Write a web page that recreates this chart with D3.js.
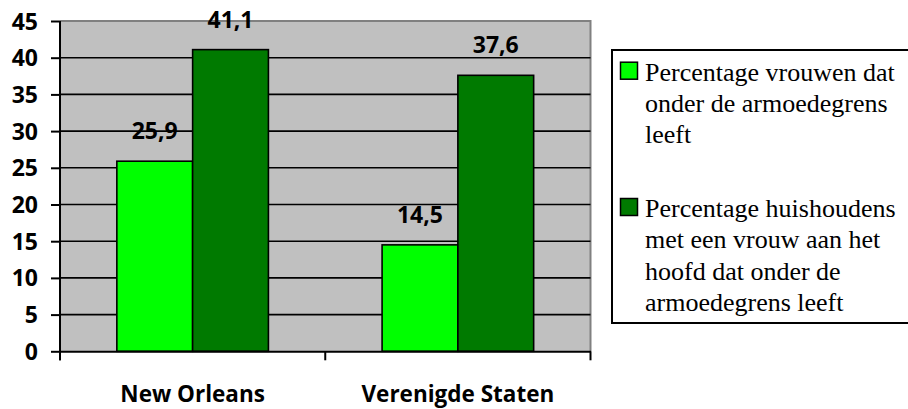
<!DOCTYPE html>
<html><head><meta charset="utf-8">
<script src="https://cdn.jsdelivr.net/npm/d3@7"></script>
<style>body{margin:0;background:#fff;} svg{display:block;} .lgt{font-family:"Liberation Serif","Times New Roman","DejaVu Serif","Noto Serif",serif;}</style>
</head><body>
<svg id="c" width="908" height="409"></svg>
<script>
const categories = ["New Orleans", "Verenigde Staten"];
const seriesNames = ["Percentage vrouwen dat onder de armoedegrens leeft",
                     "Percentage huishoudens met een vrouw aan het hoofd dat onder de armoedegrens leeft"];
const vrouwen = [25.9, 14.5];
const huishoudens = [41.1, 37.6];
const valueLabels = [["25,9", "14,5"], ["41,1", "37,6"]];
const yTicks = [0, 5, 10, 15, 20, 25, 30, 35, 40, 45];
const legendLines = [["Percentage vrouwen dat", "onder de armoedegrens", "leeft"],
                     ["Percentage huishoudens", "met een vrouw aan het", "hoofd dat onder de", "armoedegrens leeft"]];
const colors = ["#00FF00", "#007A00"];

const svg = d3.select("#c");
const L = 60, R = 590.5, T = 21, B = 351.3;
const sansFont = "'Open Sans', 'DejaVu Sans', sans-serif";

const x0 = d3.scaleBand().domain(categories).range([L, R]).padding(0);
const bw = x0.bandwidth() / 3.5;
const x1 = d3.scaleBand().domain([0, 1]).range([0.75 * bw, 2.75 * bw]).padding(0);
const y = d3.scaleLinear().domain([0, 45]).range([B, T]);

svg.append("rect").attr("x", L).attr("y", T).attr("width", R - L).attr("height", B - T).attr("fill", "#C0C0C0");
svg.append("path").attr("d", `M${L},${T}H${R}V${B}`).attr("fill", "none").attr("stroke", "#808080").attr("stroke-width", 2);
svg.append("g").selectAll("line").data(yTicks.filter(t => t > 0 && t < 45)).join("line")
  .attr("x1", L).attr("x2", R).attr("y1", d => y(d)).attr("y2", d => y(d))
  .attr("stroke", "#000").attr("stroke-width", 1.6);

const series = [vrouwen, huishoudens];
series.forEach((vals, si) => {
  svg.append("g").selectAll("rect").data(vals).join("rect")
    .attr("x", (d, i) => x0(categories[i]) + x1(si))
    .attr("y", d => y(d))
    .attr("width", x1.bandwidth())
    .attr("height", d => B - y(d))
    .attr("fill", colors[si]).attr("stroke", "#000").attr("stroke-width", 1.6);
  svg.append("g").selectAll("text").data(vals).join("text")
    .attr("x", (d, i) => x0(categories[i]) + x1(si) + x1.bandwidth() / 2)
    .attr("y", d => y(d) - 22)
    .attr("text-anchor", "middle")
    .attr("font-family", sansFont).attr("font-weight", "bold").attr("font-size", 23)
    .text((d, i) => valueLabels[si][i]);
});

const yAxis = d3.axisLeft(y).tickValues(yTicks).tickSize(9).tickPadding(13).tickFormat(d3.format("d"));
const gy = svg.append("g").attr("transform", `translate(${L},0)`).call(yAxis);
gy.select(".domain").attr("stroke", "#000").attr("stroke-width", 2).attr("d", `M0,${T}V${B + 9}`);
gy.selectAll(".tick line").attr("stroke", "#000").attr("stroke-width", 2);
gy.selectAll(".tick text").attr("font-family", sansFont).attr("font-weight", "bold").attr("font-size", 23).attr("fill", "#000").attr("dy", "0.35em");

const xAxis = d3.axisBottom(x0).tickSize(0).tickPadding(35);
const gx = svg.append("g").attr("transform", `translate(0,${B})`).call(xAxis);
gx.select(".domain").attr("stroke", "#000").attr("stroke-width", 2);
gx.selectAll(".tick text").attr("font-family", sansFont).attr("font-weight", "bold").attr("font-size", 22.5).attr("fill", "#000");
svg.append("g").selectAll("line").data([L, x0(categories[1]), R]).join("line")
  .attr("x1", d => d).attr("x2", d => d).attr("y1", B).attr("y2", B + 9)
  .attr("stroke", "#000").attr("stroke-width", 2);

const lg = svg.append("g");
lg.append("rect").attr("x", 612).attr("y", 50).attr("width", 310).attr("height", 273)
  .attr("fill", "#fff").attr("stroke", "#000").attr("stroke-width", 2);
const entryBase = [80.7, 217];
const lh = 31.3;
const legendTexts = [];
legendLines.forEach((lines, si) => {
  lg.append("rect").attr("x", 620.5).attr("y", entryBase[si] - 18.5).attr("width", 17).attr("height", 17)
    .attr("fill", colors[si]).attr("stroke", "#000").attr("stroke-width", 1.5);
  const t = lg.selectAll(null).data(lines).join("text")
    .attr("class", "lgt")
    .attr("x", 645).attr("y", (d, i) => entryBase[si] + i * lh)
    .attr("font-size", 26).attr("fill", "#000")
    .text(d => d);
  legendTexts.push(t);
});
// fit legend font so the first line spans the reference width
const w0 = legendTexts[0].node().getComputedTextLength();
const fs = Math.min(26, 26 * 254 / w0);
legendTexts.forEach(t => t.attr("font-size", fs));
</script>
</body></html>
